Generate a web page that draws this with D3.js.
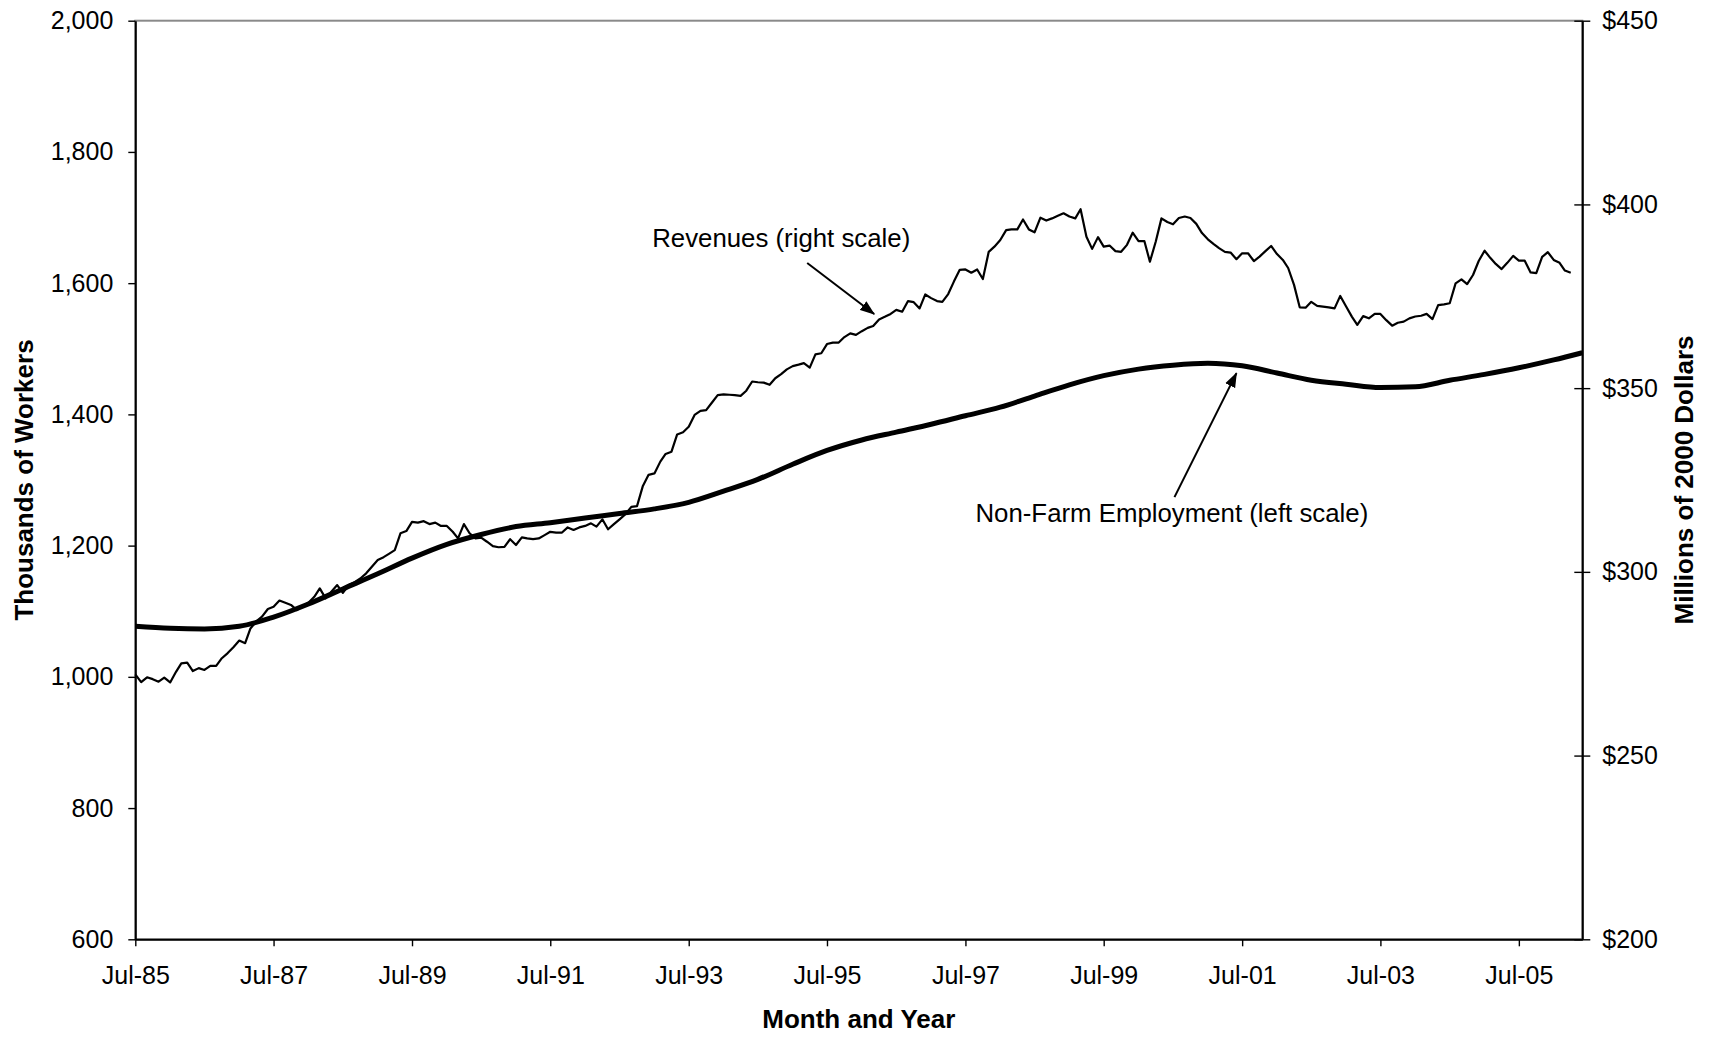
<!DOCTYPE html>
<html>
<head>
<meta charset="utf-8">
<script src="https://cdn.jsdelivr.net/npm/d3@7"></script>
<style>
  html, body { margin: 0; padding: 0; background: #fff; }
  svg { display: block; font-family: "Liberation Sans", Arial, Helvetica, sans-serif; }
</style>
</head>
<body>
<svg id="chart" width="1709" height="1037"></svg>
<script>
// ---- Data -------------------------------------------------------------
// Monthly span of the category axis
const startMonth = "Jul-85";
const endMonth = "Jun-06";

// Revenues, millions of 2000 dollars, monthly from Jul-85 (right scale)
const revenue = [
  272.1, 270.0, 271.3, 270.8, 270.1, 271.2, 269.9, 272.8, 275.1, 275.3,
  273.0, 273.8, 273.3, 274.4, 274.4, 276.5, 277.9, 279.5, 281.3, 280.6,
  284.6, 286.5, 287.8, 289.9, 290.5, 292.2, 291.6, 291.0, 289.6, 290.7,
  291.6, 293.2, 295.5, 292.8, 294.6, 296.4, 294.3, 296.4, 297.2, 298.2,
  299.6, 301.4, 303.2, 304.0, 304.9, 305.9, 310.5, 311.1, 313.6, 313.4,
  313.8, 313.0, 313.4, 312.5, 312.5, 310.9, 309.1, 313.0, 310.5, 309.1,
  309.3, 308.2, 307.0, 306.7, 306.8, 308.9, 307.3, 309.4, 309.1, 308.9,
  309.1, 310.0, 310.9, 310.7, 310.7, 312.1, 311.4, 312.1, 312.5, 313.2,
  312.3, 314.3, 311.6, 313.0, 314.3, 315.7, 317.7, 317.9, 323.4, 326.4,
  326.8, 330.0, 332.1, 332.7, 337.4, 338.0, 339.5, 342.7, 343.8, 344.0,
  346.1, 348.1, 348.3, 348.2, 348.1, 347.9, 349.3, 351.8, 351.6, 351.5,
  350.9, 352.7, 353.8, 355.1, 356.0, 356.4, 356.8, 355.6, 359.2, 359.5,
  362.0, 362.4, 362.4, 363.9, 364.9, 364.5, 365.5, 366.4, 366.9, 368.7,
  369.4, 370.2, 371.3, 370.8, 373.7, 373.4, 371.7, 375.5, 374.5, 373.7,
  373.5, 375.6, 379.0, 382.2, 382.3, 381.4, 382.3, 379.7, 387.1, 388.5,
  390.3, 393.0, 393.2, 393.2, 395.9, 393.2, 392.4, 396.4, 395.6, 396.2,
  396.9, 397.6, 396.7, 396.2, 398.7, 391.2, 387.9, 391.1, 388.5, 388.8,
  387.3, 387.1, 389.0, 392.3, 390.0, 390.0, 384.4, 389.9, 396.2, 395.2,
  394.6, 396.3, 396.7, 396.3, 394.7, 392.2, 390.5, 389.2, 388.1, 387.1,
  386.9, 385.1, 386.7, 386.7, 384.6, 385.8, 387.3, 388.7, 386.5, 384.9,
  382.7, 378.1, 372.0, 371.9, 373.5, 372.4, 372.2, 372.0, 371.7, 375.1,
  372.2, 369.4, 367.2, 369.6, 369.0, 370.2, 370.2, 368.5, 367.0, 367.8,
  368.1, 369.0, 369.5, 369.7, 370.2, 368.8, 372.6, 372.8, 373.1, 378.5,
  379.6, 378.3, 380.8, 384.6, 387.4, 385.4, 383.8, 382.4, 384.1, 386.0,
  384.7, 384.7, 381.5, 381.3, 385.7, 387.0, 384.9, 384.1, 382.0, 381.4
];

// Non-farm employment, thousands of workers (left scale)
const employmentMonths = [
  "Jul-85", "Jan-86", "Jul-86", "Jan-87", "Jul-87", "Jan-88", "Jul-88", "Jan-89",
  "Jul-89", "Jan-90", "Jul-90", "Jan-91", "Jul-91", "Jan-92", "Jul-92", "Jan-93",
  "Jul-93", "Jan-94", "Jul-94", "Jan-95", "Jul-95", "Jan-96", "Jul-96", "Jan-97",
  "Jul-97", "Jan-98", "Jul-98", "Jan-99", "Jul-99", "Jan-00", "Jul-00", "Jan-01",
  "Jul-01", "Jan-02", "Jul-02", "Jan-03", "Jul-03", "Jan-04", "Jul-04", "Jan-05",
  "Jul-05", "Jan-06", "Jun-06"
];
const employment = [
  1077, 1074, 1073, 1077, 1091, 1111, 1134, 1157,
  1181, 1202, 1217, 1229, 1235, 1242, 1249, 1256,
  1266, 1283, 1301, 1324, 1345, 1361, 1373, 1385,
  1398, 1411, 1428, 1445, 1459, 1469, 1475, 1478,
  1474, 1463, 1452, 1446, 1441, 1442, 1452, 1461,
  1471, 1483, 1494
];

// Tick labels
const xTickMonths = ["Jul-85", "Jul-87", "Jul-89", "Jul-91", "Jul-93", "Jul-95",
                     "Jul-97", "Jul-99", "Jul-01", "Jul-03", "Jul-05"];
const leftTicks = [600, 800, 1000, 1200, 1400, 1600, 1800, 2000];
const rightTicks = [200, 250, 300, 350, 400, 450];

// ---- Scales -----------------------------------------------------------
const parse = d3.timeParse("%b-%y");
const fmtMonth = d3.timeFormat("%b-%y");

const plot = { left: 135.3, right: 1582.3, top: 20.7, bottom: 939.3 };

const x = d3.scaleTime()
  .domain([parse(startMonth), parse(endMonth)])
  .range([plot.left, plot.right]);
const yL = d3.scaleLinear().domain([600, 2000]).range([plot.bottom, plot.top]);
const yR = d3.scaleLinear().domain([200, 450]).range([plot.bottom, plot.top]);

const revData = revenue.map((v, i) => ({ date: d3.timeMonth.offset(parse(startMonth), i), value: v }));
const empData = employment.map((v, i) => ({ date: parse(employmentMonths[i]), value: v }));

const svg = d3.select("#chart");
const FS = 25;        // tick labels
const FS_TITLE = 26;  // axis titles
const FS_NOTE = 25.8; // series annotations

// ---- Plot frame -------------------------------------------------------
svg.append("rect")
  .attr("x", plot.left).attr("y", plot.top)
  .attr("width", plot.right - plot.left).attr("height", plot.bottom - plot.top)
  .attr("fill", "none").attr("stroke", "#8a8a8a").attr("stroke-width", 2);

// ---- Series -----------------------------------------------------------
svg.append("path")
  .datum(revData)
  .attr("fill", "none").attr("stroke", "#000").attr("stroke-width", 2.2)
  .attr("stroke-linejoin", "round")
  .attr("d", d3.line().x(d => x(d.date)).y(d => yR(d.value)));

svg.append("path")
  .datum(empData)
  .attr("fill", "none").attr("stroke", "#000").attr("stroke-width", 5)
  .attr("d", d3.line().curve(d3.curveMonotoneX).x(d => x(d.date)).y(d => yL(d.value)));

// ---- Axes -------------------------------------------------------------
function styleAxis(g) {
  g.attr("font-size", FS).attr("font-family", null);
  g.select(".domain").attr("stroke", "#000").attr("stroke-width", 2);
  g.selectAll(".tick line").attr("stroke", "#000").attr("stroke-width", 1.4);
  g.selectAll(".tick text").attr("fill", "#000");
}

svg.append("g")
  .attr("transform", `translate(0,${plot.bottom})`)
  .call(d3.axisBottom(x)
    .tickValues(xTickMonths.map(parse))
    .tickFormat(fmtMonth)
    .tickSize(7).tickSizeOuter(0).tickPadding(20))
  .call(styleAxis);

svg.append("g")
  .attr("transform", `translate(${plot.left},0)`)
  .call(d3.axisLeft(yL)
    .tickValues(leftTicks)
    .tickFormat(d3.format(","))
    .tickSize(7).tickSizeOuter(0).tickPadding(15))
  .call(styleAxis);

svg.append("g")
  .attr("transform", `translate(${plot.right},0)`)
  .call(d3.axisRight(yR)
    .tickValues(rightTicks)
    .tickFormat(d => "$" + d)
    .tickSize(8).tickSizeOuter(0).tickPadding(12))
  .call(styleAxis)
  .call(g => g.selectAll(".tick line").attr("x1", -8));

// ---- Axis titles ------------------------------------------------------
svg.append("text")
  .attr("transform", `translate(24,${(plot.top + plot.bottom) / 2}) rotate(-90)`)
  .attr("text-anchor", "middle").attr("dy", "0.35em")
  .attr("font-size", FS_TITLE).attr("font-weight", "bold")
  .text("Thousands of Workers");

svg.append("text")
  .attr("transform", `translate(1684,${(plot.top + plot.bottom) / 2}) rotate(-90)`)
  .attr("text-anchor", "middle").attr("dy", "0.35em")
  .attr("font-size", FS_TITLE).attr("font-weight", "bold")
  .text("Millions of 2000 Dollars");

svg.append("text")
  .attr("x", (plot.left + plot.right) / 2).attr("y", 1028)
  .attr("text-anchor", "middle")
  .attr("font-size", FS_TITLE).attr("font-weight", "bold")
  .text("Month and Year");

// ---- Annotations ------------------------------------------------------
svg.append("defs").append("marker")
  .attr("id", "arrowhead")
  .attr("viewBox", "0 -6 15 12")
  .attr("markerUnits", "userSpaceOnUse")
  .attr("markerWidth", 15).attr("markerHeight", 12)
  .attr("refX", 14).attr("refY", 0)
  .attr("orient", "auto")
  .append("path").attr("d", "M0,-5.5L15,0L0,5.5Z").attr("fill", "#000");

const revTip = [x(parse("Mar-96")) + 1, yR(revenue[128]) - 12];
const empTip = [x(parse("Jun-01")), yL(1475) + 8];

const notes = [
  { text: "Revenues (right scale)", tip: revTip, tail: [revTip[0] - 67, revTip[1] - 51],
    label: [revTip[0] - 222, revTip[1] - 67] },
  { text: "Non-Farm Employment (left scale)", tip: empTip, tail: [empTip[0] - 62, empTip[1] + 124],
    label: [empTip[0] - 261, empTip[1] + 149] }
];

notes.forEach(n => {
  svg.append("line")
    .attr("x1", n.tail[0]).attr("y1", n.tail[1])
    .attr("x2", n.tip[0]).attr("y2", n.tip[1])
    .attr("stroke", "#000").attr("stroke-width", 2)
    .attr("marker-end", "url(#arrowhead)");
  svg.append("text")
    .attr("x", n.label[0]).attr("y", n.label[1])
    .attr("font-size", FS_NOTE).attr("fill", "#000")
    .text(n.text);
});
</script>
</body>
</html>
